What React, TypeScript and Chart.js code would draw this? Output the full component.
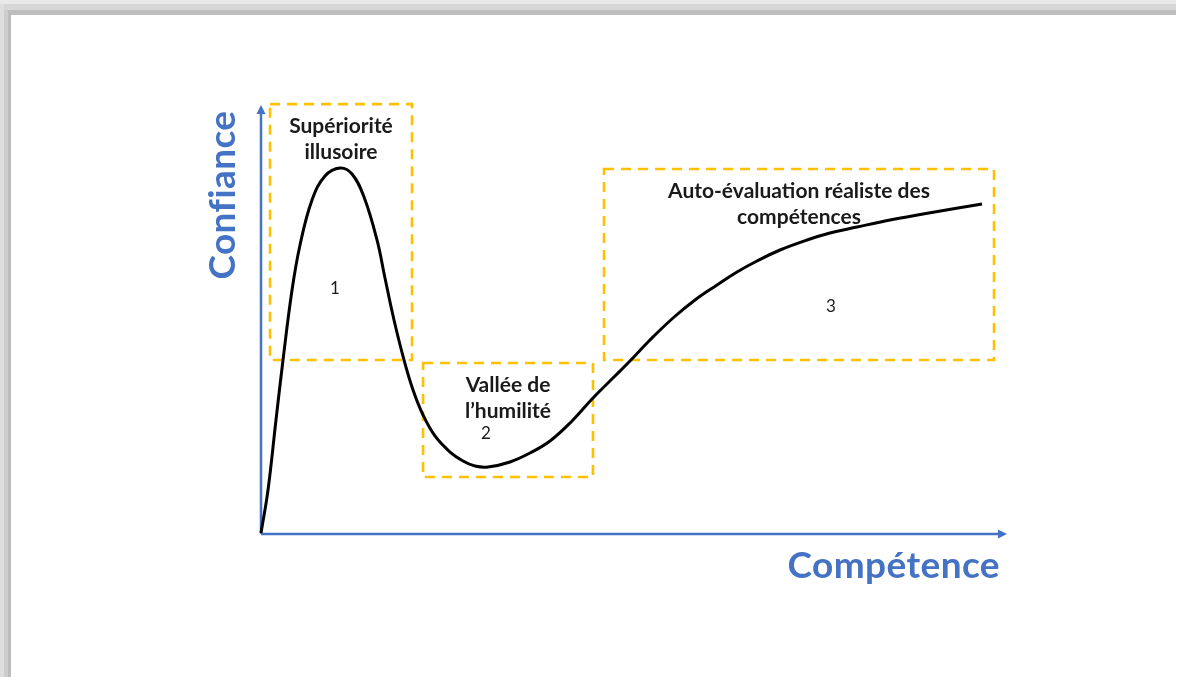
import React, { useEffect, useRef } from "react";
import { Chart, registerables } from "chart.js";

Chart.register(...registerables);

// Curve: competence (x) vs confidence (y), in 0–100 units
const competence = [0, 0.94, 2.01, 2.95, 4.16, 5.23, 6.84, 8.58, 10.59, 12.2, 13.81, 15.55, 16.62, 17.83, 19.17, 20.38, 21.72, 23.32, 25.34, 27.08, 28.69, 30.43, 33.38, 36.06, 38.74, 41.69, 44.5, 47.45, 49.46, 52.14, 55.23, 58.18, 61.13, 63.81, 66.49, 69.57, 73.19, 76.27, 79.89, 84.32, 88.74, 93.03, 96.65];
const confiance = [0.23, 10.19, 26.39, 40.28, 56.48, 66.9, 77.31, 82.87, 84.72, 83.33, 78.01, 68.06, 59.26, 49.54, 40.28, 33.33, 27.55, 22.69, 18.98, 16.9, 15.74, 15.51, 16.67, 18.75, 21.53, 26.16, 31.48, 36.57, 40.05, 44.91, 50.0, 54.17, 57.64, 60.65, 63.19, 65.74, 68.06, 69.68, 71.06, 72.69, 74.07, 75.35, 76.39];

// Zones (dashed boxes), in the same units
const zoneX0 = [1.21, 21.72, 45.98];
const zoneX1 = [20.24, 44.5, 98.26];
const zoneY0 = [40.28, 13.19, 40.28];
const zoneY1 = [99.5, 39.58, 84.49];
const zoneTitles = [
  ["Supériorité", "illusoire"],
  ["Vallée de", "l’humilité"],
  ["Auto-évaluation réaliste des", "compétences"],
];
const zoneNumbers = ["1", "2", "3"];
const zoneNumberX = [9.92, 30.16, 76.41];
const zoneNumberY = [56.94, 23.15, 52.55];

const yAxisTitle = "Confiance";
const xAxisTitle = "Compétence";

const BLUE = "#4472C4";
const ORANGE = "#FFC000";

const decorPlugin = {
  id: "decor",
  beforeDatasetsDraw(chart: any) {
    const { ctx, scales } = chart;
    const xs = scales.x;
    const ys = scales.y;
    ctx.save();
    const W = chart.width;
    const H = chart.height;
    ctx.fillStyle = "#e9e9e9";
    ctx.fillRect(0, 0, W - 3, 4);
    ctx.fillStyle = "#d7d7d7";
    ctx.fillRect(0, 4, W - 3, 6);
    ctx.fillStyle = "#bebebe";
    ctx.fillRect(4, 10, W - 7, 5);
    ctx.fillStyle = "#dedede";
    ctx.fillRect(0, 4, 4, H);
    ctx.fillStyle = "#cdcdcd";
    ctx.fillRect(4, 10, 4, H);
    ctx.fillStyle = "#bdbdbd";
    ctx.fillRect(8, 10, 3, H);

    ctx.strokeStyle = ORANGE;
    ctx.lineWidth = 2.6;
    ctx.setLineDash([10, 7]);
    for (let i = 0; i < zoneX0.length; i++) {
      const x0 = xs.getPixelForValue(zoneX0[i]);
      const x1 = xs.getPixelForValue(zoneX1[i]);
      const y0 = ys.getPixelForValue(zoneY0[i]);
      const y1 = ys.getPixelForValue(zoneY1[i]);
      ctx.strokeRect(x0, y1, x1 - x0, y0 - y1);
    }
    ctx.setLineDash([]);

    const ox = xs.getPixelForValue(0);
    const oy = ys.getPixelForValue(0);
    const tx = xs.getPixelForValue(100);
    const ty = ys.getPixelForValue(99.3);
    ctx.strokeStyle = BLUE;
    ctx.fillStyle = BLUE;
    ctx.lineWidth = 2.5;
    ctx.beginPath();
    ctx.moveTo(ox, oy);
    ctx.lineTo(ox, ty + 6);
    ctx.moveTo(ox, oy);
    ctx.lineTo(tx - 6, oy);
    ctx.stroke();
    ctx.beginPath();
    ctx.moveTo(ox, ty);
    ctx.lineTo(ox - 4.5, ty + 9);
    ctx.lineTo(ox + 4.5, ty + 9);
    ctx.closePath();
    ctx.fill();
    ctx.beginPath();
    ctx.moveTo(tx, oy);
    ctx.lineTo(tx - 9, oy - 4.5);
    ctx.lineTo(tx - 9, oy + 4.5);
    ctx.closePath();
    ctx.fill();
    ctx.restore();
  },
  afterDatasetsDraw(chart: any) {
    const { ctx, chartArea, scales } = chart;
    const xs = scales.x;
    const ys = scales.y;
    ctx.save();
    (ctx as any).letterSpacing = "0.4px";
    ctx.fillStyle = BLUE;
    ctx.font = "bold 37px Lato";
    ctx.textAlign = "right";
    ctx.textBaseline = "alphabetic";
    ctx.fillText(xAxisTitle, chartArea.right - 7, chartArea.bottom + 44);
    ctx.save();
    ctx.translate(chartArea.left - 26, chartArea.top + 93);
    ctx.rotate(-Math.PI / 2);
    ctx.textAlign = "center";
    ctx.fillText(yAxisTitle, 0, 0);
    ctx.restore();

    (ctx as any).letterSpacing = "0px";
    ctx.fillStyle = "#1a1a1a";
    ctx.font = "bold 21px Lato";
    ctx.textAlign = "center";
    ctx.textBaseline = "middle";
    for (let i = 0; i < zoneTitles.length; i++) {
      const cx = (xs.getPixelForValue(zoneX0[i]) + xs.getPixelForValue(zoneX1[i])) / 2;
      const top = ys.getPixelForValue(zoneY1[i]);
      zoneTitles[i].forEach((line, j) => {
        ctx.fillText(line, cx, top + 22 + j * 26);
      });
    }
    ctx.font = "17px Lato";
    for (let i = 0; i < zoneNumbers.length; i++) {
      ctx.fillText(zoneNumbers[i], xs.getPixelForValue(zoneNumberX[i]), ys.getPixelForValue(zoneNumberY[i]));
    }
    ctx.restore();
  },
};

export default function App() {
  const ref = useRef<HTMLCanvasElement | null>(null);
  useEffect(() => {
    if (!ref.current) return;
    const chart = new Chart(ref.current, {
      type: "line",
      data: {
        datasets: [
          {
            data: competence.map((x, i) => ({ x, y: confiance[i] })),
            borderColor: "#000000",
            borderWidth: 3,
            pointRadius: 0,
            tension: 0.4,
            clip: false as any,
          },
        ],
      },
      options: {
        animation: false,
        responsive: false,
        layout: { padding: { left: 261, right: 172, top: 102, bottom: 143 } },
        scales: {
          x: { type: "linear", min: 0, max: 100, display: false },
          y: { type: "linear", min: 0, max: 100, display: false },
        },
        plugins: { legend: { display: false }, tooltip: { enabled: false } },
      },
      plugins: [decorPlugin],
    });
    return () => chart.destroy();
  }, []);
  return (
    <div style={{ position: "fixed", left: 0, top: 0, width: 1179, height: 677, background: "#fff" }}>
      <canvas ref={ref} width={1179} height={677} style={{ display: "block" }} />
    </div>
  );
}
